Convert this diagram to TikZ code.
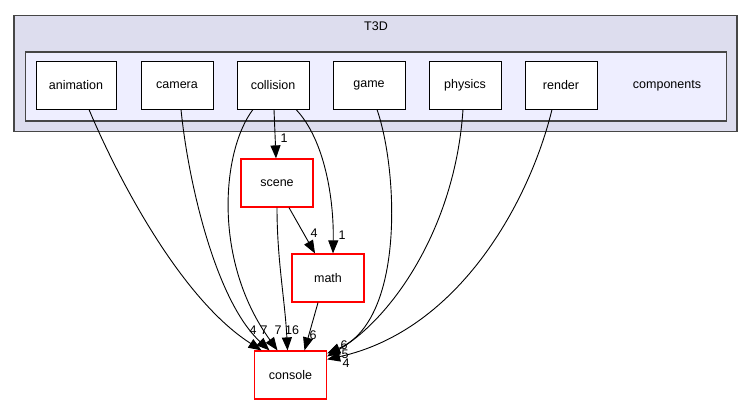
\documentclass[tikz,border=0pt]{standalone}
\usepackage{fontspec}
\setmainfont{Liberation Sans}
\usetikzlibrary{positioning,arrows.meta}
\definecolor{outerfill}{RGB}{221,221,238}
\definecolor{innerfill}{RGB}{238,238,255}
\definecolor{edgegray}{RGB}{70,70,70}

\begin{document}
\begin{tikzpicture}[x=1pt,y=-1pt,font=\fontsize{12.5}{15}\selectfont]
\tikzset{D/.style={rectangle,draw=black,fill=white,line width=1pt,minimum width=72pt,minimum height=47pt,inner sep=0pt}}
\tikzset{R/.style={rectangle,draw=red,fill=white,line width=1.2pt,minimum width=72pt,minimum height=48pt,inner sep=0pt}}
\tikzset{dep/.style={draw=black,line width=0.9pt,-{Triangle[length=13pt,width=10pt]}}}
\tikzset{num/.style={inner sep=0pt}}

  \useasboundingbox (0,0) rectangle (752,404);

  % clusters
  \node[draw=edgegray,fill=outerfill,line width=1.6pt,minimum width=723pt,minimum height=116pt,inner sep=0pt] (t3d) at (375.5,73.5) {};
  \node (t3dlabel) at (376,26) {T3D};
  \node[draw=edgegray,fill=innerfill,line width=1.6pt,minimum width=701pt,minimum height=69pt,inner sep=0pt] (comp) at (376,86.5) {};
  \node (complabel) at (667,85.5) {components};

  % directories
  \node[D,minimum width=80pt] (animation) at (76,85.5) {animation};
  \node[D] (camera) at (177,85.5) {camera};
  \node[D] (collision) at (273,85.5) {collision};
  \node[D] (game) at (369,85.5) {game};
  \node[D] (physics) at (465,85.5) {physics};
  \node[D] (render) at (561,85.5) {render};

  \node[R] (scene) at (277,183) {scene};
  \node[R] (math) at (328,278) {math};
  \node[R] (console) at (290.5,375) {console};

  % dependencies
  \draw[dep] ([xshift=13pt]animation.south) .. controls (110,160) and (175,295) .. ([xshift=-29pt]console.north);
  \draw[dep] ([xshift=4pt]camera.south) .. controls (188,180) and (215,300) .. ([xshift=-21pt]console.north);
  \draw[dep] ([xshift=-20pt]collision.south) .. controls (222,150) and (212,260) .. ([xshift=-13pt]console.north);
  \draw[dep] ([xshift=1pt]collision.south) -- ([xshift=-1pt]scene.north);
  \draw[dep] ([xshift=23pt]collision.south) .. controls (325,140) and (334,200) .. ([xshift=5pt]math.north);
  \draw[dep] ([xshift=12pt]scene.south) -- ([xshift=-13pt]math.north);
  \draw[dep] (scene.south) .. controls (277,260) and (285,300) .. ([xshift=-3pt]console.north);
  \draw[dep] ([xshift=-10pt]math.south) -- ([xshift=14pt]console.north);
  \draw[dep] ([xshift=8pt]game.south) .. controls (398,170) and (405,320) .. ([yshift=-3pt]console.north east);
  \draw[dep] ([xshift=-2pt]physics.south) .. controls (455,230) and (390,320) .. ([yshift=-6pt]console.north east);
  \draw[dep] ([xshift=-9pt]render.south) .. controls (530,200) and (460,330) .. ([yshift=-9pt]console.north east);

  % counts
  \node[num] (n1) at (284,138) {1};
  \node[num] (n2) at (314,233) {4};
  \node[num] (n3) at (342,235) {1};
  \node[num] (n4) at (253,330) {4};
  \node[num] (n5) at (264,330) {7};
  \node[num] (n6) at (278,330) {7};
  \node[num] (n7) at (292,330) {16};
  \node[num] (n8) at (313,335) {6};
  \node[num] (n9) at (344,345) {6};
  \node[num] (n10) at (345,354) {5};
  \node[num] (n11) at (346,363) {4};
\end{tikzpicture}
\end{document}
